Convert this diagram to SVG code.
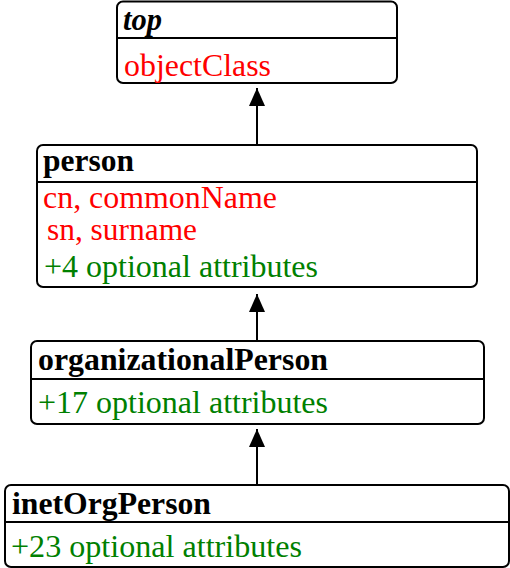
<svg xmlns="http://www.w3.org/2000/svg" width="510" height="568" viewBox="0 0 510 568">
<defs>
<style>
.box{fill:#fff;stroke:#000;stroke-width:2}
.div{stroke:#000;stroke-width:2}
.t{font-family:"Liberation Serif","Times New Roman",serif;font-size:31px}
.title{font-weight:bold;fill:#000}
.req{fill:#ff0000}
.opt{fill:#008000}
.conn{stroke:#000;stroke-width:2;fill:none}
</style>
<marker id="arr" viewBox="0 0 18 16" refX="18" refY="8" markerWidth="18" markerHeight="16" markerUnits="userSpaceOnUse" orient="auto">
<path d="M0,0 L18,8 L0,16 Z" fill="#000"/>
</marker>
</defs>
<g id="connectors">
<line class="conn" x1="257" y1="145" x2="257" y2="88" marker-end="url(#arr)"/>
<line class="conn" x1="257" y1="341" x2="257" y2="294" marker-end="url(#arr)"/>
<line class="conn" x1="257" y1="484" x2="257" y2="429" marker-end="url(#arr)"/>
</g>
<g id="top">
<rect class="box" x="117" y="1.5" width="280" height="81.5" rx="6"/>
<line class="div" x1="117" y1="38" x2="397" y2="38"/>
<text class="t title" x="123" y="30" font-style="italic" textLength="39" lengthAdjust="spacingAndGlyphs">top</text>
<text class="t req" x="124" y="76" textLength="147" lengthAdjust="spacingAndGlyphs">objectClass</text>
</g>
<g id="person">
<rect class="box" x="37" y="145" width="440" height="142" rx="6"/>
<line class="div" x1="37" y1="182" x2="477" y2="182"/>
<text class="t title" x="43" y="171" textLength="91" lengthAdjust="spacingAndGlyphs">person</text>
<text class="t req" x="43" y="208" textLength="234" lengthAdjust="spacingAndGlyphs">cn, commonName</text>
<text class="t req" x="47" y="240" textLength="150" lengthAdjust="spacingAndGlyphs">sn, surname</text>
<text class="t opt" x="44" y="277" textLength="274" lengthAdjust="spacingAndGlyphs">+4 optional attributes</text>
</g>
<g id="organizationalPerson">
<rect class="box" x="31" y="341" width="453" height="83" rx="6"/>
<line class="div" x1="31" y1="379" x2="484" y2="379"/>
<text class="t title" x="38" y="370" textLength="290" lengthAdjust="spacingAndGlyphs">organizationalPerson</text>
<text class="t opt" x="38" y="413" textLength="290" lengthAdjust="spacingAndGlyphs">+17 optional attributes</text>
</g>
<g id="inetOrgPerson">
<rect class="box" x="5" y="485" width="504" height="82" rx="6"/>
<line class="div" x1="5" y1="522" x2="509" y2="522"/>
<text class="t title" x="12" y="514" textLength="199" lengthAdjust="spacingAndGlyphs">inetOrgPerson</text>
<text class="t opt" x="11" y="557" textLength="291" lengthAdjust="spacingAndGlyphs">+23 optional attributes</text>
</g>
</svg>
